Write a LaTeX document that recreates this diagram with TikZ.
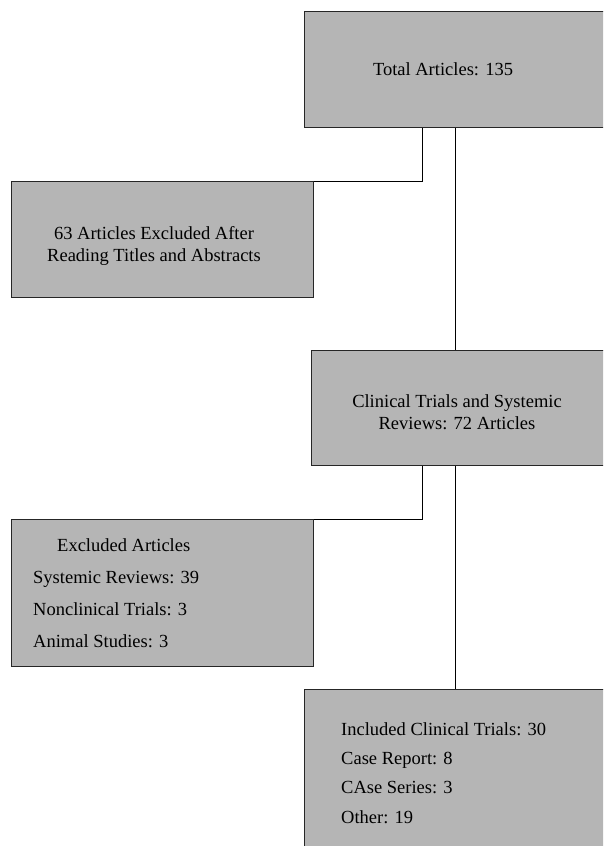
\documentclass[tikz,border=0pt]{standalone}
\usepackage{fontspec}
\setmainfont{Liberation Serif}
\usetikzlibrary{positioning}
\definecolor{boxgray}{RGB}{181,181,181}
\tikzset{
greybox/.style={rectangle, draw=black!85, fill=boxgray, line width=0.8pt, inner sep=0pt, anchor=north west},
boxtext/.style={inner sep=0pt, font=\fontsize{18.5}{22}\selectfont, align=center},
listtext/.style={inner sep=0pt, anchor=west, align=left},
linkline/.style={line width=0.8pt, black},
}

\begin{document}
\begin{tikzpicture}[x=1pt,y=-1pt]
    \clip (0,0) rectangle (603,846);
    \fill[white] (0,0) rectangle (603,846);
    \node[greybox, minimum width=320pt, minimum height=116pt] at (304,11) (total) {};
    \node[boxtext] at (443,69) (totaltext) {Total Articles: 135};
    \node[greybox, minimum width=302pt, minimum height=116pt] at (11,181) (excla) {};
    \node[boxtext] at (154,246) (exclatext) {63 Articles Excluded After\\Reading Titles and Abstracts};
    \node[greybox, minimum width=320pt, minimum height=115pt] at (311,350) (clinical) {};
    \node[boxtext] at (457,412) (clinicaltext) {Clinical Trials and Systemic\\Reviews: 72 Articles};
    \node[greybox, minimum width=302pt, minimum height=147pt] at (11,519) (exclb) {};
    \node[listtext, font=\fontsize{18.5}{32}\selectfont] at (33,593) (exclbtext) {\hspace{24pt}Excluded Articles\\Systemic Reviews: 39\\Nonclinical Trials: 3\\Animal Studies: 3};
    \node[greybox, minimum width=320pt, minimum height=200pt] at (304,689) (included) {};
    \node[listtext, font=\fontsize{18.5}{29.3}\selectfont] at (341,773) (includedtext) {Included Clinical Trials: 30\\Case Report: 8\\CAse Series: 3\\Other: 19};
    % connectors
    \coordinate (hook) at (422,0);
    \coordinate (trunk) at (455,0);
    \draw[linkline] (total.south -| hook) |- (excla.north east);
    \draw[linkline] (total.south -| trunk) -- (clinical.north -| trunk);
    \draw[linkline] (clinical.south -| hook) |- (exclb.north east);
    \draw[linkline] (clinical.south -| trunk) -- (included.north -| trunk);
\end{tikzpicture}
\end{document}
